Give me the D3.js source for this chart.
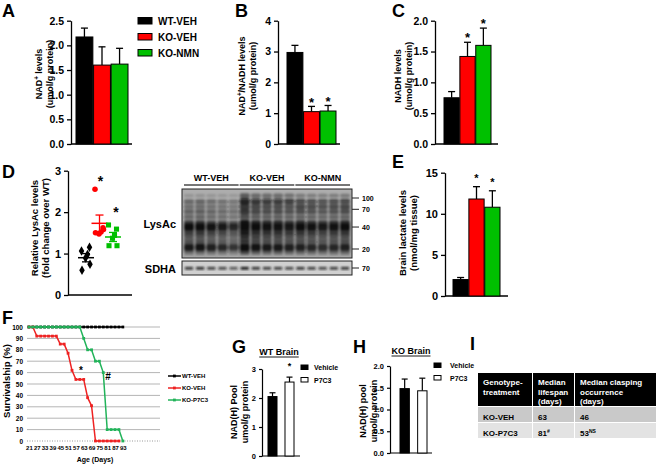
<!DOCTYPE html>
<html><head><meta charset="utf-8">
<script src="https://cdn.jsdelivr.net/npm/d3@7"></script>
<style>
body{margin:0;background:#fff}
text{font-family:"Liberation Sans",Arial,Helvetica,sans-serif;font-weight:bold}
</style></head>
<body><svg id="c" width="657" height="465"></svg>
<script>
// ---------------- DATA ----------------
const groups3 = ["WT-VEH","KO-VEH","KO-NMN"];
const groupColors = ["#000000","#ff0000","#00c000"];
const nadMean = [2.17,1.60,1.62];
const nadErr = [0.18,0.37,0.32];
const ratioMean = [2.97,1.05,1.07];
const ratioErr = [0.23,0.17,0.18];
const ratioStars = [false,true,true];
const nadhMean = [0.75,1.42,1.60];
const nadhErr = [0.10,0.23,0.28];
const nadhStars = [false,true,true];
const lactMean = [2.0,11.8,10.8];
const lactErr = [0.25,1.5,2.0];
const lactStars = [false,true,true];
const lysAcPoints = [[1.06,1.15,0.98,0.89,0.60,0.74],[2.55,1.62,1.52,1.47,1.50,1.58],[1.69,1.59,1.44,1.37,1.19,1.19]];
const lysAcMean = [0.90,1.73,1.40];
const lysAcSem = [0.10,0.20,0.11];
const lysAcStars = [false,true,true];
// blot
const blotLaneGroups = ["WT-VEH","WT-VEH","WT-VEH","WT-VEH","WT-VEH","KO-VEH","KO-VEH","KO-VEH","KO-VEH","KO-VEH","KO-NMN","KO-NMN","KO-NMN","KO-NMN","KO-NMN"];
const blotLaneFactor = [1.0,1.05,0.95,0.9,0.8,1.2,1.0,0.95,0.95,0.9,1.0,0.95,0.9,0.95,1.0];
const bandMW = [108,90,76,65,55,45,40,35,31,27,24,21,18.5];
const bandStrength = {
  "WT-VEH":[0.15,0.35,0.25,0.35,0.30,0.65,1.00,0.60,0.50,0.40,0.45,0.90,0.35],
  "KO-VEH":[0.40,0.70,0.55,0.55,0.40,0.80,1.00,0.70,0.60,0.50,0.50,0.95,0.45],
  "KO-NMN":[0.30,0.55,0.55,0.50,0.35,0.75,1.00,0.65,0.55,0.45,0.45,0.85,0.40]};
const mwMarkers = [100,70,40,20];
const sdhaMW = "70";
// survival
const survDays = [21,24,27,30,33,36,39,42,45,48,51,54,57,60,63,66,69,72,75,78,81,84,87,90,93];
const survWT = [100,100,100,100,100,100,100,100,100,100,100,100,100,100,100,100,100,100,100,100,100,100,100,100,100];
const survKOVEH = [100,100,92,92,92,92,92,92,85,85,77,62,54,54,54,38,31,0,0,0,0,0,0,0,null];
const survKOP7C3 = [100,100,100,100,100,100,100,100,100,100,100,100,100,100,90,80,80,70,70,60,10,10,10,10,0];
const survNames = ["WT-VEH","KO-VEH","KO-P7C3"];
const survColors = ["#000000","#ee2222","#22b35a"];
const survTickDays = [21,27,33,39,45,51,57,63,69,75,81,87,93];
// G, H
const p7Groups = ["Vehicle","P7C3"];
const p7Fill = ["#000000","#ffffff"];
const wtPoolMean = [2.05,2.55];
const wtPoolErr = [0.13,0.17];
const wtPoolStars = [false,true];
const koPoolMean = [1.48,1.43];
const koPoolErr = [0.22,0.29];
const koPoolStars = [false,false];
// table
const tableHeader = [["Genotype-","treatment"],["Median","lifespan","(days)"],["Median clasping","occurrence","(days)"]];
const tableRows = [["KO-VEH","63","46"],["KO-P7C3","81","53"]];
const tableSups = [["","",""],["","#","NS"]];

// ---------------- DRAW ----------------
const svg = d3.select("#c");
svg.append("rect").attr("width",657).attr("height",465).attr("fill","#fff");

function txt(x,y,s,size,anchor){
  const t = svg.append("text").attr("x",x).attr("y",y).attr("font-size",size).text(s);
  if(anchor) t.attr("text-anchor",anchor);
  return t;
}
function rotLabel(x,cy,parts,size){
  const t = svg.append("text").attr("transform",`translate(${x},${cy}) rotate(-90)`)
    .attr("text-anchor","middle").attr("font-size",size).attr("y",size*0.35);
  let pend = 0;
  parts.forEach(p=>{
    if(typeof p==="string"){ const s=t.append("tspan").text(p); if(pend){ s.attr("dy",pend); pend=0; } }
    else { t.append("tspan").attr("dy",-size*0.38).attr("font-size",size*0.7).text(p.sup); pend=size*0.38; }
  });
  return t;
}

function barPanel(o){
  const y = d3.scaleLinear().domain([0,o.max]).range([o.y0,o.y1]);
  const x = d3.scaleBand().domain(o.cats).range(o.xr).paddingInner(o.pad);
  const ag = svg.append("g").attr("transform",`translate(${o.ax},0)`)
    .call(d3.axisLeft(y).tickValues(o.ticks).tickFormat(d3.format(o.fmt)).tickSize(o.tk).tickSizeOuter(0).tickPadding(o.tp));
  ag.attr("font-size",o.fs).attr("font-family",null);
  ag.selectAll("path,line").attr("stroke","#000").attr("stroke-width",o.sw);
  ag.selectAll("text").attr("fill","#000");
  svg.append("line").attr("x1",o.ax).attr("x2",o.bx).attr("y1",o.y0).attr("y2",o.y0)
    .attr("stroke","#000").attr("stroke-width",o.sw);
  const g = svg.append("g");
  o.cats.forEach((c,i)=>{
    const v=o.vals[i], e=o.errs[i], bx=x(c), bw=x.bandwidth(), cx=bx+bw/2;
    g.append("line").attr("x1",cx).attr("x2",cx).attr("y1",y(v)).attr("y2",y(v+e)).attr("stroke","#000").attr("stroke-width",o.sw);
    g.append("line").attr("x1",cx-o.cap).attr("x2",cx+o.cap).attr("y1",y(v+e)).attr("y2",y(v+e)).attr("stroke","#000").attr("stroke-width",o.sw);
    g.append("rect").attr("x",bx).attr("y",y(v)).attr("width",bw).attr("height",o.y0-y(v))
      .attr("fill",o.colors[i]).attr("stroke","#000").attr("stroke-width",1);
    if(o.stars && o.stars[i]) txt(cx,y(v+e)+o.starOff,"*",o.starSize,"middle");
  });
}

// Panel letters
[["A",2,17],["B",235,17],["C",392,17],["D",2,178],["E",392,168],["F",2,324],["G",232,353],["H",353,353],["I",470,350]]
  .forEach(d=>txt(d[1],d[2],d[0],18));

// A
barPanel({cats:groups3,vals:nadMean,errs:nadErr,colors:groupColors,max:2.5,ticks:[0,0.5,1,1.5,2,2.5],fmt:".1f",
  y0:144,y1:20.7,ax:71,bx:132,xr:[76,128],pad:0.04,fs:10.5,tk:4,tp:3,sw:1.3,cap:3.5});
rotLabel(39,74,["NAD",{sup:"+"}," levels"],9);
rotLabel(50,74,["(umol/g protein)"],9);
groups3.forEach((gname,i)=>{
  svg.append("rect").attr("x",138).attr("y",17.5+i*16).attr("width",14).attr("height",6.5)
    .attr("fill",groupColors[i]).attr("stroke","#000").attr("stroke-width",1);
  txt(158,24.5+i*16,gname,10);
});

// B
barPanel({cats:groups3,vals:ratioMean,errs:ratioErr,colors:groupColors,max:4,ticks:[0,1,2,3,4],fmt:"d",stars:ratioStars,starOff:1,starSize:13,
  y0:144,y1:20.7,ax:278,bx:340,xr:[287,336],pad:0.04,fs:10.5,tk:4,tp:3,sw:1.3,cap:3.5});
rotLabel(242,76,["NAD",{sup:"+"},"/NADH levels"],9);
rotLabel(253,76,["(umol/g protein)"],9);

// C
barPanel({cats:groups3,vals:nadhMean,errs:nadhErr,colors:groupColors,max:2,ticks:[0,0.5,1,1.5,2],fmt:".1f",stars:nadhStars,starOff:0,starSize:13,
  y0:144,y1:20.7,ax:435,bx:498,xr:[444,491],pad:0.04,fs:10.5,tk:4,tp:3,sw:1.3,cap:3.5});
rotLabel(398,76,["NADH levels"],9);
rotLabel(409,76,["(umol/g protein)"],9);

// D scatter
(function(){
  const y = d3.scaleLinear().domain([0,3]).range([295,170.7]);
  const x = d3.scalePoint().domain(groups3).range([86,113]);
  const ag = svg.append("g").attr("transform","translate(68,0)")
    .call(d3.axisLeft(y).tickValues([0,1,2,3]).tickFormat(d3.format("d")).tickSize(4).tickSizeOuter(0).tickPadding(3));
  ag.attr("font-size",11).attr("font-family",null);
  ag.selectAll("path,line").attr("stroke","#000").attr("stroke-width",1.3);
  ag.selectAll("text").attr("fill","#000");
  svg.append("line").attr("x1",68).attr("x2",132).attr("y1",295).attr("y2",295).attr("stroke","#000").attr("stroke-width",1.3);
  const jitter = [-4.5,3.5,1.5,-0.5,-4,4];
  const shapes = [d3.symbolDiamond, d3.symbolCircle, d3.symbolSquare];
  const sizes = [26,24,26];
  groups3.forEach((gname,i)=>{
    const cx = x(gname);
    lysAcPoints[i].forEach((v,j)=>{
      svg.append("path").attr("d",d3.symbol().type(shapes[i]).size(sizes[i])())
        .attr("transform",`translate(${cx+jitter[j]},${y(v)})`).attr("fill",groupColors[i]);
    });
    const m=lysAcMean[i], s=lysAcSem[i];
    svg.append("line").attr("x1",cx-8).attr("x2",cx+8).attr("y1",y(m)).attr("y2",y(m)).attr("stroke",groupColors[i]).attr("stroke-width",1.5);
    svg.append("line").attr("x1",cx).attr("x2",cx).attr("y1",y(m-s)).attr("y2",y(m+s)).attr("stroke",groupColors[i]).attr("stroke-width",1.3);
    [m-s,m+s].forEach(vv=>svg.append("line").attr("x1",cx-4).attr("x2",cx+4).attr("y1",y(vv)).attr("y2",y(vv)).attr("stroke",groupColors[i]).attr("stroke-width",1.3));
    if(lysAcStars[i]) txt(cx+(i===2?3:1),y(d3.max(lysAcPoints[i]))+(i===1?-3:-8),"*",14,"middle");
  });
  rotLabel(35,228,["Relative LysAc levels"],9.5);
  rotLabel(46,228,["(fold change over WT)"],9.5);
})();

// Western blot
(function(){
  const defs = svg.append("defs");
  defs.append("filter").attr("id","blur").attr("x","-20%").attr("y","-50%").attr("width","140%").attr("height","200%")
    .append("feGaussianBlur").attr("stdDeviation",1.1);
  const bx0=182,bx1=352,by0=189,by1=258;
  const lanes = d3.scaleBand().domain(d3.range(blotLaneGroups.length)).range([bx0+2,bx1-2]).paddingInner(0.1);
  const mwY = d3.scaleLog().domain([20,100]).range([249,198]);
  svg.append("rect").attr("x",bx0).attr("y",by0).attr("width",bx1-bx0).attr("height",by1-by0).attr("fill","#adadad");
  const bg = svg.append("g").attr("filter","url(#blur)");
  blotLaneGroups.forEach((gname,li)=>{
    const lx=lanes(li), lw=lanes.bandwidth(), f=blotLaneFactor[li];
    bg.append("rect").attr("x",lx).attr("y",by0+12).attr("width",lw).attr("height",by1-by0-14).attr("fill","#333").attr("opacity",0.25*f);
    bandMW.forEach((mw,bi)=>{
      const s=Math.min(1,bandStrength[gname][bi]*f);
      const h=2.5+4.5*s;
      bg.append("rect").attr("x",lx).attr("y",mwY(mw)-h/2).attr("width",lw).attr("height",h)
        .attr("rx",2).attr("fill","#0a0a0a").attr("opacity",Math.min(1,s*1.0));
    });
  });
  svg.append("rect").attr("x",bx0).attr("y",by0).attr("width",bx1-bx0).attr("height",by1-by0).attr("fill","none").attr("stroke","#222").attr("stroke-width",1);
  // SDHA strip
  svg.append("rect").attr("x",bx0).attr("y",261).attr("width",bx1-bx0).attr("height",14).attr("fill","#d0d0d0");
  const sg = svg.append("g").attr("filter","url(#blur)");
  blotLaneGroups.forEach((gname,li)=>{
    sg.append("rect").attr("x",lanes(li)+1).attr("y",267).attr("width",lanes.bandwidth()-2).attr("height",2.6)
      .attr("fill","#111").attr("opacity",0.85*blotLaneFactor[li]);
  });
  svg.append("rect").attr("x",bx0).attr("y",261).attr("width",bx1-bx0).attr("height",14).attr("fill","none").attr("stroke","#222").attr("stroke-width",1);
  // group labels
  groups3.forEach((gname,gi)=>{
    const idx = blotLaneGroups.map((d,i)=>d===gname?i:-1).filter(i=>i>=0);
    const l0=lanes(idx[0]), l1=lanes(idx[idx.length-1])+lanes.bandwidth();
    svg.append("line").attr("x1",l0).attr("x2",l1).attr("y1",185).attr("y2",185).attr("stroke","#777").attr("stroke-width",2);
    txt((l0+l1)/2,181,gname,9,"middle");
  });
  mwMarkers.forEach(m=>{
    svg.append("line").attr("x1",bx1).attr("x2",bx1+7).attr("y1",mwY(m)).attr("y2",mwY(m)).attr("stroke","#222").attr("stroke-width",1);
    txt(bx1+10,mwY(m)+2.5,String(m),7);
  });
  svg.append("line").attr("x1",bx1).attr("x2",bx1+7).attr("y1",268).attr("y2",268).attr("stroke","#222").attr("stroke-width",1);
  txt(bx1+10,270.5,sdhaMW,7);
  txt(176,228,"LysAc",11,"end");
  txt(176,272.5,"SDHA",11,"end");
})();

// E
barPanel({cats:groups3,vals:lactMean,errs:lactErr,colors:groupColors,max:15,ticks:[0,5,10,15],fmt:"d",stars:lactStars,starOff:-5,starSize:11,
  y0:296,y1:172.7,ax:445,bx:508,xr:[453,500],pad:0.04,fs:11,tk:4,tp:3,sw:1.3,cap:3.5});
rotLabel(403,233,["Brain lactate levels"],9.5);
rotLabel(414,233,["(nmol/mg tissue)"],9.5);

// F survival
(function(){
  const fx = d3.scaleLinear().domain([19.5,121.5]).range([27,160]);
  const fy = d3.scaleLinear().domain([0,100]).range([441,327]);
  d3.range(10,101,10).forEach(v=>svg.append("line").attr("x1",27).attr("x2",160).attr("y1",fy(v)).attr("y2",fy(v)).attr("stroke","#b5b5b5").attr("stroke-width",1));
  svg.append("line").attr("x1",27).attr("x2",160).attr("y1",fy(0)).attr("y2",fy(0)).attr("stroke","#999").attr("stroke-width",1).attr("stroke-dasharray","1,1.5");
  const ya = svg.append("g").attr("transform","translate(27,0)").call(d3.axisLeft(fy).tickValues(d3.range(0,101,10)).tickSize(0).tickPadding(4));
  ya.attr("font-size",6.5).attr("font-family",null); ya.select(".domain").remove(); ya.selectAll("text").attr("fill","#000");
  const xa = svg.append("g").attr("transform",`translate(0,${fy(0)})`).call(d3.axisBottom(fx).tickValues(survTickDays).tickSize(0).tickPadding(5));
  xa.attr("font-size",6).attr("font-family",null); xa.select(".domain").remove(); xa.selectAll("text").attr("fill","#000");
  const series=[survWT,survKOVEH,survKOP7C3];
  series.forEach((s,si)=>{
    const pts = survDays.map((d,i)=>[d,s[i]]).filter(p=>p[1]!==null);
    svg.append("path").attr("d",d3.line().x(p=>fx(p[0])).y(p=>fy(p[1]))(pts)).attr("fill","none").attr("stroke",survColors[si]).attr("stroke-width",1.5);
    pts.forEach(p=>svg.append("rect").attr("x",fx(p[0])-1.4).attr("y",fy(p[1])-1.4).attr("width",2.8).attr("height",2.8).attr("fill",survColors[si]));
  });
  survNames.forEach((n,i)=>{
    const ly=376+i*12;
    svg.append("line").attr("x1",168).attr("x2",181).attr("y1",ly).attr("y2",ly).attr("stroke",survColors[i]).attr("stroke-width",1.5);
    svg.append("rect").attr("x",173).attr("y",ly-1.4).attr("width",2.8).attr("height",2.8).attr("fill",survColors[i]);
    txt(182,ly+2,n,6);
  });
  txt(81,374,"*",10,"middle");
  txt(108,380,"#",10,"middle");
  rotLabel(7,381,["Survivalship (%)"],9.5);
  txt(95,462,"Age (Days)",7,"middle");
})();

// G
barPanel({cats:p7Groups,vals:wtPoolMean,errs:wtPoolErr,colors:p7Fill,max:3,ticks:[0,1,2,3],fmt:"d",stars:wtPoolStars,starOff:-8,starSize:9,
  y0:456,y1:369,ax:262,bx:300,xr:[268,294],pad:0.47,fs:7.5,tk:3,tp:3,sw:1.2,cap:3});
rotLabel(234,412,["NAD(H) Pool"],9);
rotLabel(245,412,["umol/g protein"],9);
(function(){const t=txt(279,355,"WT Brain",9,"middle"); const w=t.node().getComputedTextLength();
  svg.append("line").attr("x1",279-w/2).attr("x2",279+w/2).attr("y1",357).attr("y2",357).attr("stroke","#000").attr("stroke-width",0.9);})();
p7Groups.forEach((n,i)=>{
  svg.append("rect").attr("x",301).attr("y",365+i*12.5).attr("width",7).attr("height",4.5).attr("fill",p7Fill[i]).attr("stroke","#000").attr("stroke-width",1);
  txt(314,370+i*12.5,n,7);
});

// H
barPanel({cats:p7Groups,vals:koPoolMean,errs:koPoolErr,colors:p7Fill,max:2,ticks:[0,0.5,1,1.5,2],fmt:".1f",stars:koPoolStars,starOff:-8,starSize:9,
  y0:453,y1:366,ax:390,bx:432,xr:[400,427],pad:0.47,fs:7.5,tk:3,tp:3,sw:1.2,cap:3});
rotLabel(363,411,["NAD(H) pool"],9);
rotLabel(374,411,["umol/g protein"],9);
(function(){const t=txt(411,354,"KO Brain",9,"middle"); const w=t.node().getComputedTextLength();
  svg.append("line").attr("x1",411-w/2).attr("x2",411+w/2).attr("y1",356).attr("y2",356).attr("stroke","#000").attr("stroke-width",0.9);})();
p7Groups.forEach((n,i)=>{
  svg.append("rect").attr("x",434).attr("y",363+i*12.5).attr("width",7).attr("height",4.5).attr("fill",p7Fill[i]).attr("stroke","#000").attr("stroke-width",1);
  txt(450,368+i*12.5,n,7);
});

// I table
(function(){
  const colX=[478,533,575,657];
  const rowY=[373,407,423,439];
  const rowFill=["#000","#c9c9c9","#e3e3e3"];
  for(let r=0;r<3;r++) for(let c=0;c<3;c++){
    svg.append("rect").attr("x",colX[c]).attr("y",rowY[r]).attr("width",colX[c+1]-colX[c]-1).attr("height",rowY[r+1]-rowY[r]-1).attr("fill",rowFill[r]);
  }
  tableHeader.forEach((lines,c)=>lines.forEach((ln,k)=>txt(colX[c]+5,385+k*9.5,ln,8).attr("fill","#fff")));
  tableRows.forEach((row,r)=>row.forEach((v,c)=>{
    const t=txt(colX[c]+5,419.5+r*16,v,8);
    if(tableSups[r][c]) t.append("tspan").attr("dy",-3).attr("font-size",5).text(tableSups[r][c]);
  }));
})();
</script></body></html>
